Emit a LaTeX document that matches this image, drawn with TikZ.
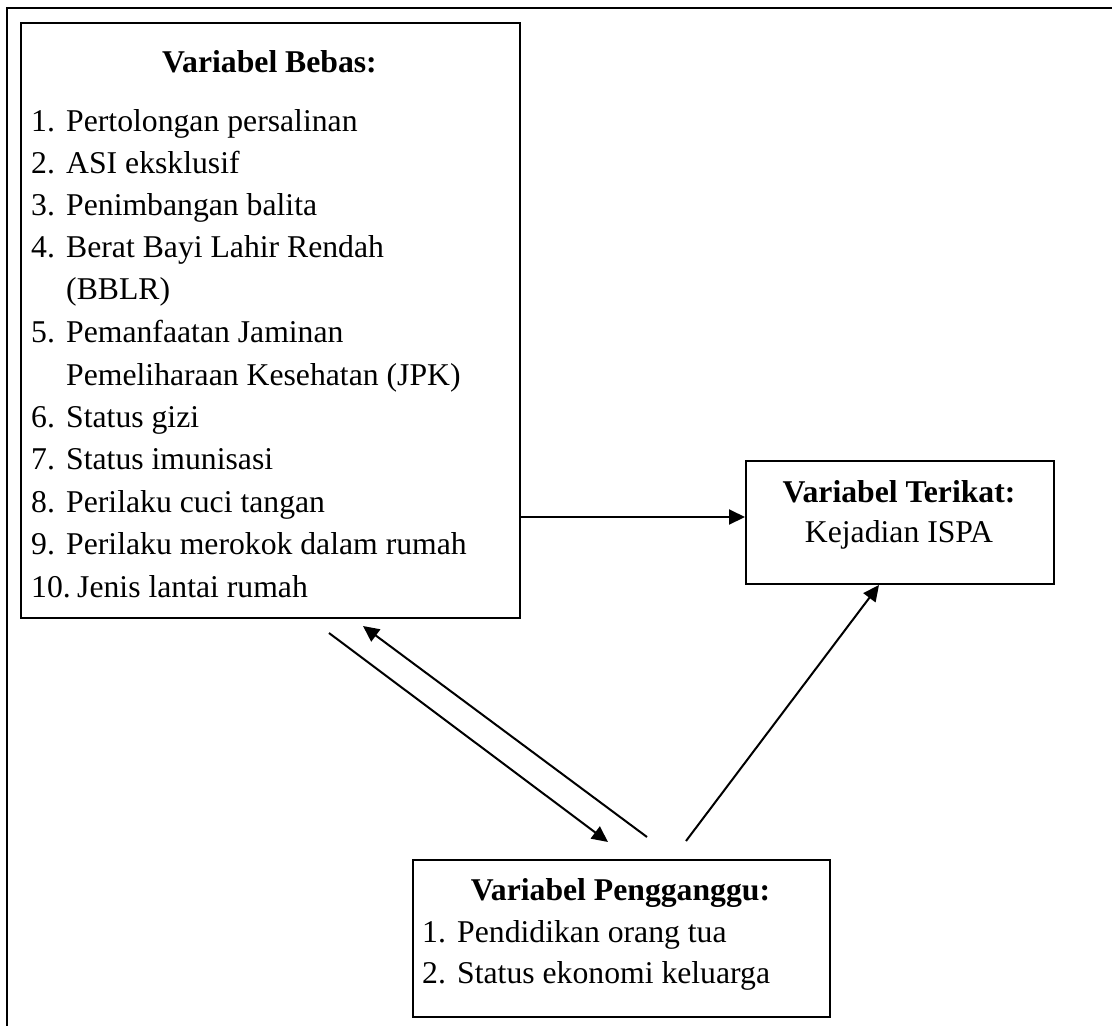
\documentclass[tikz,border=0pt]{standalone}
\usepackage{fontspec}
\setmainfont{Liberation Serif}
\usetikzlibrary{arrows.meta}
\begin{document}
\begin{tikzpicture}[x=1pt,y=-1pt,
  box/.style={draw, line width=2pt, rectangle, inner sep=0pt, anchor=north west},
  txt/.style={inner sep=0pt, anchor=base west, font=\fontsize{31.7}{42}\selectfont},
  ttl/.style={inner sep=0pt, anchor=base, font=\fontsize{31.7}{42}\selectfont\bfseries},
  ctr/.style={inner sep=0pt, anchor=base, font=\fontsize{31.7}{42}\selectfont},
  arr/.style={line width=2pt, -{Triangle[length=16pt,width=15pt]}}]
\useasboundingbox (0,0) rectangle (1112,1026);
% outer frame (top and left only)
\draw[line width=2pt] (7,1026) -- (7,8) -- (1112,8);
% boxes
\node[box, minimum width=499pt, minimum height=595pt] (b1) at (20,22) {};
\node[box, minimum width=308pt, minimum height=123pt] (b2) at (745,460) {};
\node[box, minimum width=417pt, minimum height=157pt] (b3) at (412,859) {};
% box 1 text
\node[ttl] (t1) at (269.5,72) {Variabel Bebas:};
\foreach \i/\y/\n/\t in {1/131/1./Pertolongan persalinan,
                         2/173/2./ASI eksklusif,
                         3/215/3./Penimbangan balita,
                         4/257/4./Berat Bayi Lahir Rendah,
                         5/342/5./Pemanfaatan Jaminan,
                         6/427/6./Status gizi,
                         7/469/7./Status imunisasi,
                         8/512/8./Perilaku cuci tangan,
                         9/554/9./Perilaku merokok dalam rumah}{
  \node[txt] (n\i) at (31,\y) {\n};
  \node[txt] (i\i) at (66,\y) {\t};
}
\node[txt] (i4b) at (66,299) {(BBLR)};
\node[txt] (i5b) at (66,385) {Pemeliharaan Kesehatan (JPK)};
\node[txt] (n10) at (31,597) {10.};
\node[txt] (i10) at (77,597) {Jenis lantai rumah};
% box 2 text
\node[ttl] (t2) at (899,502) {Variabel Terikat:};
\node[ctr] (k2) at (899,542) {Kejadian ISPA};
% box 3 text
\node[ttl] (t3) at (620.5,900) {Variabel Pengganggu:};
\node[txt] (m1) at (422,942) {1.};
\node[txt] (j1) at (457,942) {Pendidikan orang tua};
\node[txt] (m2) at (422,983) {2.};
\node[txt] (j2) at (457,983) {Status ekonomi keluarga};
% connector end points
\coordinate (h) at ([yshift=5.5pt]b2.west);
\coordinate (a1s) at ([xshift=58.5pt,yshift=-14pt]b1.south);
\coordinate (a1e) at ([xshift=-13.5pt,yshift=17pt]b3.north);
\coordinate (a2s) at ([xshift=25.5pt,yshift=22pt]b3.north);
\coordinate (a2e) at ([xshift=92.5pt,yshift=-7pt]b1.south);
\coordinate (a3s) at ([xshift=64.5pt,yshift=18pt]b3.north);
\coordinate (a3e) at ([xshift=-21pt]b2.south);
% connectors
\draw[arr] (b1.east |- h) -- (h);
\draw[arr] (a1s) -- (a1e);
\draw[arr] (a2s) -- (a2e);
\draw[arr] (a3s) -- (a3e);
\end{tikzpicture}
\end{document}
